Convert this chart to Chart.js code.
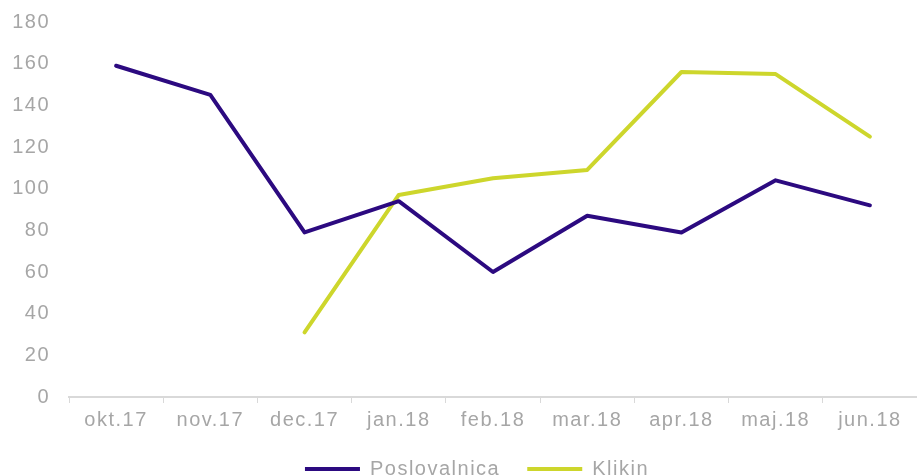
<!DOCTYPE html>
<html>
<head>
<meta charset="utf-8">
<script src="https://cdn.jsdelivr.net/npm/chart.js@4"></script>
<style>
html,body{margin:0;padding:0;background:#fff;}
#wrap{width:917px;height:475px;position:relative;}
</style>
</head>
<body>
<div id="wrap"><canvas id="c"></canvas></div>
<script>
const categories = ['okt.17','nov.17','dec.17','jan.18','feb.18','mar.18','apr.18','maj.18','jun.18'];
const poslovalnica = [159,145,79,94,60,87,79,104,92];
const klikin = [null,null,31,97,105,109,156,155,125];
const seriesNames = ['Poslovalnica','Klikin'];
const yTicks = [0,20,40,60,80,100,120,140,160,180];

const gray = '#a6a6a6';
const purple = '#2c0a80';
const lime = '#cdd62c';
const fontFam = '"Liberation Sans", Arial, sans-serif';

const spacing = {
  id: 'spacing',
  beforeUpdate(chart) {
    chart.ctx.letterSpacing = '1.5px';
    const lg = chart.legend;
    if (lg && !lg._fixedH) {
      const orig = lg.fit.bind(lg);
      lg.fit = function () { orig(); this.height = 43; };
      lg._fixedH = true;
    }
  },
  afterLayout(chart) {
    const lg = chart.legend;
    if (lg) { lg.left += 15; lg.right += 15; }
  },
  beforeDraw(chart) { chart.ctx.letterSpacing = '1.5px'; },
  resize(chart) { chart.ctx.letterSpacing = '1.5px'; }
};

new Chart(document.getElementById('c'), {
  type: 'line',
  data: {
    labels: categories,
    datasets: [
      {label: seriesNames[0], data: poslovalnica, borderColor: purple, backgroundColor: purple, borderWidth: 4, pointRadius: 0, pointStyle: 'line', tension: 0, borderCapStyle: 'round', borderJoinStyle: 'round'},
      {label: seriesNames[1], data: klikin, borderColor: lime, backgroundColor: lime, borderWidth: 4, pointRadius: 0, pointStyle: 'line', tension: 0, borderCapStyle: 'round', borderJoinStyle: 'round'}
    ]
  },
  plugins: [spacing],
  options: {
    responsive: true,
    maintainAspectRatio: false,
    animation: false,
    devicePixelRatio: 1,
    layout: {padding: {left: 0, right: -7, top: 22, bottom: 0}},
    plugins: {
      tooltip: {enabled: false},
      legend: {
        position: 'bottom',
        labels: {
          color: gray,
          font: {family: fontFam, size: 20},
          usePointStyle: true,
          pointStyle: 'line',
          pointStyleWidth: 55,
          padding: 27
        }
      }
    },
    scales: {
      x: {
        offset: true,
        grid: {display: true, offset: true, drawOnChartArea: false, tickLength: 6, lineWidth: 1,
               color: (c) => c.index === categories.length ? 'rgba(0,0,0,0)' : '#d9d9d9'},
        border: {display: true, color: '#d9d9d9', width: 2},
        ticks: {color: gray, font: {family: fontFam, size: 20}, padding: 5, maxRotation: 0, autoSkip: false},
        afterFit: (s) => { s.height = 35; s.paddingRight = -7; }
      },
      y: {
        min: 0, max: 180,
        grid: {display: false, drawTicks: true, tickLength: 16},
        border: {display: false},
        afterBuildTicks: (s) => { s.ticks = yTicks.map(v => ({value: v})); },
        ticks: {color: gray, font: {family: fontFam, size: 20}, padding: 3},
        afterFit: (s) => { s.width = 69; s.paddingRight = -7; }
      }
    }
  }
});
</script>
</body>
</html>
